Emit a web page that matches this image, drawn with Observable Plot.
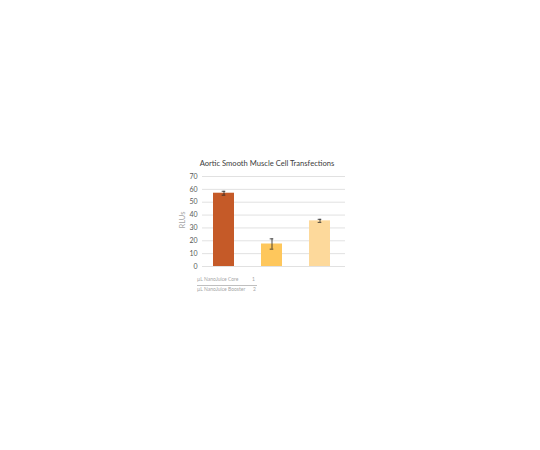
<!DOCTYPE html>
<html>
<head>
<meta charset="utf-8">
<script src="https://cdn.jsdelivr.net/npm/d3@7"></script>
<script src="https://cdn.jsdelivr.net/npm/@observablehq/plot@0.6"></script>
<style>
  html, body { margin: 0; padding: 0; background: #fff; }
  #wrap { position: relative; width: 540px; height: 450px; overflow: hidden; font-family: Lato, "Open Sans", sans-serif; }
  #chart { position: absolute; left: 0; top: 0; }
  #title { position: absolute; left: 167px; width: 200px; top: 158px; text-align: center; font-size: 7.6px; color: #404040; white-space: nowrap; }
  #ylabel { position: absolute; left: 163px; width: 40px; top: 215px; text-align: center; font-size: 7.5px; color: #a6a6a6; transform: rotate(-90deg); transform-origin: 20px 5px; white-space: nowrap; }
  .row { position: absolute; left: 197px; font-size: 5px; color: #a6a6a6; white-space: nowrap; }
  .val { position: absolute; font-size: 5px; color: #a6a6a6; }
  #sep { position: absolute; left: 197px; top: 285px; width: 60px; height: 0; border-top: 0.6px solid #bfbfbf; }
</style>
</head>
<body>
<div id="wrap">
  <div id="chart"></div>
  <div id="title"></div>
  <div id="ylabel"></div>
  <div id="rows"></div>
</div>
<script>
const title = "Aortic Smooth Muscle Cell Transfections";
const categories = ["A", "B", "C"];
const values = [57, 17.5, 35.5];
const errors = [1.5, 4, 1.2];
const colors = ["#c55a28", "#fec75c", "#fdd99b"];
const yTicks = [0, 10, 20, 30, 40, 50, 60, 70];
const yLabel = "RLUs";
const rowLabels = ["µL NanoJuice Core", "µL NanoJuice Booster"];
const rowValues = ["1", "2"];

const data = categories.map((c, i) => ({cat: c, v: values[i], lo: values[i] - errors[i], hi: values[i] + errors[i], color: colors[i]}));

const chart = Plot.plot({
  width: 540,
  height: 450,
  marginLeft: 202,
  marginRight: 195,
  marginTop: 176,
  marginBottom: 184,
  style: {fontFamily: "Lato, 'Open Sans', sans-serif", background: "transparent"},
  x: {domain: categories, range: [200, 344], paddingInner: 0.56, paddingOuter: 0.265, axis: null},
  y: {domain: [0, 70], ticks: yTicks, label: null},
  marks: [
    Plot.gridY(yTicks, {stroke: "#d9d9d9", strokeOpacity: 1, strokeWidth: 0.8}),
    Plot.axisY(yTicks, {tickSize: 0, tickPadding: 5, fontSize: 7, fill: "#595959", label: null}),
    Plot.barY(data, {x: "cat", y: "v", fill: "color"}),
    Plot.ruleX(data, {x: "cat", y1: "lo", y2: "hi", stroke: "#222", strokeWidth: 0.8}),
    Plot.tickY(data, {x: "cat", y: "lo", stroke: "#222", strokeWidth: 0.8, insetLeft: 8.7, insetRight: 8.7}),
    Plot.tickY(data, {x: "cat", y: "hi", stroke: "#222", strokeWidth: 0.8, insetLeft: 8.7, insetRight: 8.7})
  ]
});
document.getElementById("chart").appendChild(chart);
document.getElementById("title").textContent = title;
document.getElementById("ylabel").textContent = yLabel;

const rows = document.getElementById("rows");
const tops = [276, 286];
const valX = [252, 253];
rowLabels.forEach((t, i) => {
  const d = document.createElement("div");
  d.className = "row"; d.style.top = tops[i] + "px"; d.textContent = t;
  rows.appendChild(d);
  const v = document.createElement("div");
  v.className = "val"; v.style.top = tops[i] + "px"; v.style.left = valX[i] + "px"; v.textContent = rowValues[i];
  rows.appendChild(v);
});
const sep = document.createElement("div");
sep.id = "sep";
rows.appendChild(sep);
</script>
</body>
</html>
